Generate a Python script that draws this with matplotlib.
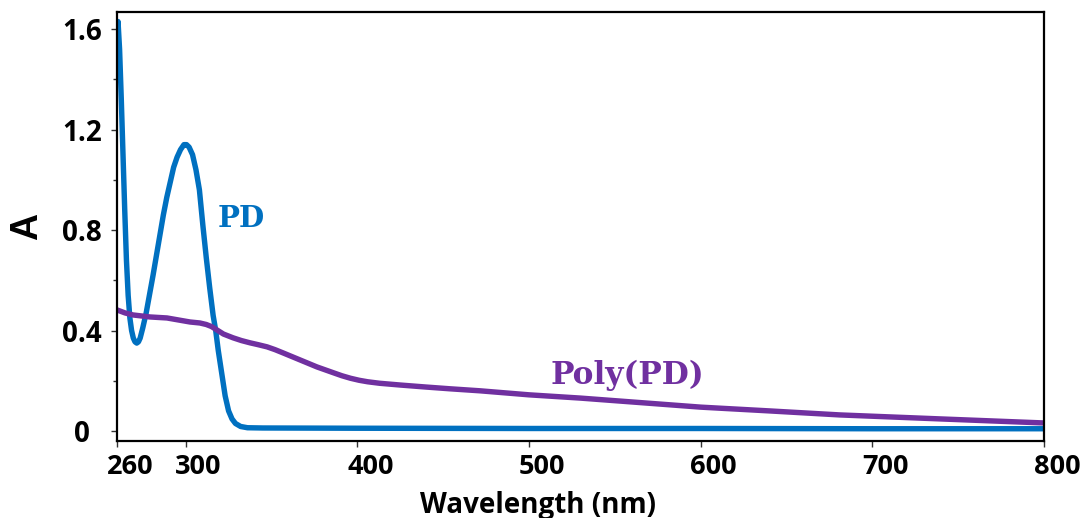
import numpy as np
import matplotlib
matplotlib.use('Agg')
import matplotlib.pyplot as plt
from matplotlib.transforms import ScaledTranslation
from matplotlib.ticker import FixedLocator, MultipleLocator

# PD spectrum (wavelength nm, absorbance)
pd_wl = [260.0, 260.6, 261.5, 262.5, 263.5, 264.5, 265.5, 266.5, 267.5, 268.5, 269.5,
         270.5, 271.5, 272.5, 273.5, 275, 277, 279, 281, 283, 285, 287, 289, 291, 293,
         295, 297, 299, 300.5, 302, 304, 306, 308, 310, 312, 314, 316, 317.5, 319, 321,
         323, 325, 327, 329, 332, 336, 345, 400, 500, 600, 700, 800]
pd_abs = [1.56, 1.63, 1.52, 1.32, 1.10, 0.88, 0.68, 0.54, 0.45, 0.40, 0.37,
          0.355, 0.35, 0.355, 0.37, 0.41, 0.47, 0.545, 0.62, 0.70, 0.78, 0.86, 0.93, 0.99, 1.05,
          1.09, 1.12, 1.14, 1.14, 1.13, 1.10, 1.04, 0.96, 0.82, 0.69, 0.57, 0.46, 0.40, 0.32, 0.23,
          0.14, 0.08, 0.048, 0.03, 0.018, 0.013, 0.012, 0.011, 0.010, 0.010, 0.009, 0.009]

# Poly(PD) spectrum
poly_wl = [260.0, 264.7, 269.3, 279.2, 289.1, 302.5, 308.3, 312.0, 315.0, 318.3, 322.0,
           327.6, 332.5, 337.5, 342.0, 347.4, 352.0, 356.7, 366.6, 376.5, 386.0, 391.0,
           396.0, 401.0, 406.0, 413.0, 425.0, 440.0, 454.0, 471.5, 500.0, 530.0, 565.0,
           600.0, 640.0, 681.0, 740.0, 800.0]
poly_abs = [0.482, 0.470, 0.462, 0.454, 0.450, 0.434, 0.430, 0.424, 0.416, 0.402, 0.386,
            0.371, 0.360, 0.351, 0.344, 0.335, 0.324, 0.311, 0.283, 0.255, 0.232, 0.220,
            0.210, 0.202, 0.196, 0.190, 0.183, 0.175, 0.168, 0.160, 0.144, 0.131, 0.113,
            0.095, 0.080, 0.064, 0.048, 0.032]

x_ticks = [260, 300, 400, 500, 600, 700, 800]
y_ticks = [0, 0.4, 0.8, 1.2, 1.6]
y_tick_labels = ['0', '0.4', '0.8', '1.2', '1.6']

blue = '#0070C0'
purple = '#7030A0'

fig = plt.figure(figsize=(10.84, 5.18), dpi=100)
ax = fig.add_axes([117 / 1084, 77 / 518, 927 / 1084, 429 / 518])

ax.plot(pd_wl, pd_abs, color=blue, lw=3.9, solid_capstyle='round', solid_joinstyle='round')
ax.plot(poly_wl, poly_abs, color=purple, lw=3.9, solid_capstyle='round', solid_joinstyle='round')

ax.set_xlim(260, 800)
ax.set_ylim(-0.0398, 1.668)

for s in ax.spines.values():
    s.set_linewidth(1.6)
    s.set_color('black')

ax.xaxis.set_major_locator(FixedLocator(x_ticks))
ax.set_yticks(y_ticks)
ax.set_yticklabels(y_tick_labels)
ax.yaxis.set_minor_locator(MultipleLocator(0.2))
ax.tick_params(axis='both', which='major', direction='out', length=4, width=1, color='#333333')
ax.tick_params(axis='y', which='minor', direction='out', length=3, width=1, color='#333333')
ax.tick_params(axis='x', pad=5)
ax.tick_params(axis='y', pad=21)

for lab in ax.get_xticklabels():
    lab.set_fontfamily('Open Sans')
    lab.set_fontweight('bold')
    lab.set_fontsize(19.5)
    lab.set_transform(lab.get_transform() + ScaledTranslation(13 / 100, 0, fig.dpi_scale_trans))
for lab in ax.get_yticklabels():
    lab.set_fontfamily('Open Sans')
    lab.set_fontweight('bold')
    lab.set_fontsize(20)
    lab.set_horizontalalignment('center')

ax.text((538 - 117) / 927, -0.168, 'Wavelength (nm)', transform=ax.transAxes,
        ha='center', va='baseline', fontsize=20, fontweight='bold', family='Open Sans')
ax.text(-0.097, 0.5, 'A', transform=ax.transAxes, rotation=90, ha='center', va='center',
        fontsize=27, fontweight='bold', family='Liberation Sans')

ax.text(318.5, 0.845, 'PD', color=blue, fontsize=21, fontweight='bold',
        family='DejaVu Serif', ha='left', va='center')
ax.text(512.5, 0.22, 'Poly(PD)', color=purple, fontsize=22.5, fontweight='bold',
        family='DejaVu Serif', ha='left', va='center')

fig.savefig('out.png', dpi=100)
